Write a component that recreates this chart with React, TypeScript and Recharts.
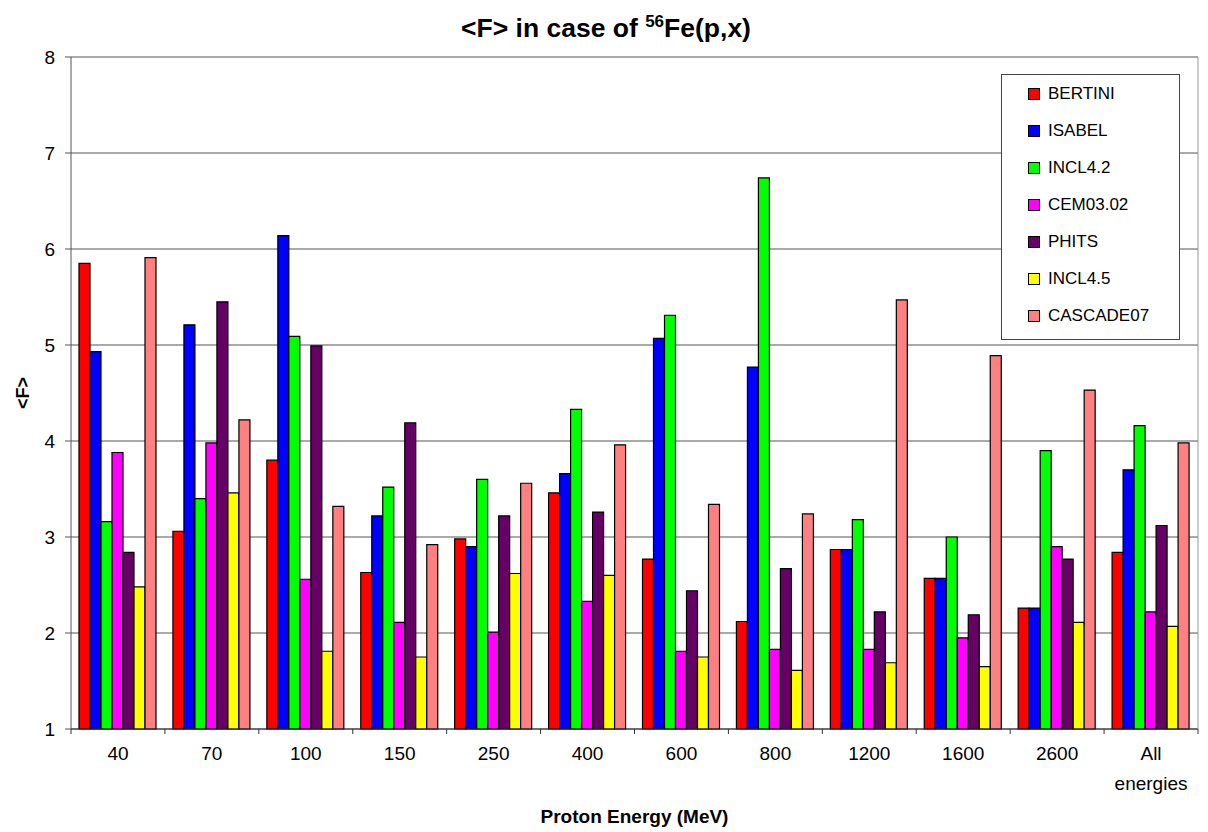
import React from "react";
import { BarChart, Bar, XAxis, YAxis, CartesianGrid } from "recharts";

// Proton energy categories (MeV)
const categories = ["40", "70", "100", "150", "250", "400", "600", "800", "1200", "1600", "2600", "All energies"];

// <F> values per model
const bertini = [5.85, 3.06, 3.8, 2.63, 2.98, 3.46, 2.77, 2.12, 2.87, 2.57, 2.26, 2.84];
const isabel = [4.93, 5.21, 6.14, 3.22, 2.9, 3.66, 5.07, 4.77, 2.87, 2.57, 2.26, 3.7];
const incl42 = [3.16, 3.4, 5.09, 3.52, 3.6, 4.33, 5.31, 6.74, 3.18, 3.0, 3.9, 4.16];
const cem0302 = [3.88, 3.98, 2.56, 2.11, 2.01, 2.33, 1.81, 1.83, 1.83, 1.95, 2.9, 2.22];
const phits = [2.84, 5.45, 4.99, 4.19, 3.22, 3.26, 2.44, 2.67, 2.22, 2.19, 2.77, 3.12];
const incl45 = [2.48, 3.46, 1.81, 1.75, 2.62, 2.6, 1.75, 1.61, 1.69, 1.65, 2.11, 2.07];
const cascade07 = [5.91, 4.22, 3.32, 2.92, 3.56, 3.96, 3.34, 3.24, 5.47, 4.89, 4.53, 3.98];

const yTicks = [1, 2, 3, 4, 5, 6, 7, 8];

const SERIES = [
  { key: "BERTINI", values: bertini, color: "#FF0000" },
  { key: "ISABEL", values: isabel, color: "#0000FF" },
  { key: "INCL4.2", values: incl42, color: "#00FF00" },
  { key: "CEM03.02", values: cem0302, color: "#FF00FF" },
  { key: "PHITS", values: phits, color: "#660066" },
  { key: "INCL4.5", values: incl45, color: "#FFFF00" },
  { key: "CASCADE07", values: cascade07, color: "#FF8080" },
];

const FONT = "'Liberation Sans', Arial, sans-serif";

const W = 1208;
const H = 832;
const MARGIN = { top: 57, right: 9, bottom: 0, left: 11 };
const Y_AXIS_W = 60;
const PLOT_W = W - MARGIN.left - Y_AXIS_W - MARGIN.right - 1;
const BAND = PLOT_W / categories.length;
const TICK_GAP = 17;

const data = categories.map((name, i) => {
  const row: Record<string, string | number> = { name };
  SERIES.forEach((s) => {
    row[s.key] = s.values[i];
  });
  return row;
});

// x tick: label(s) centred in the band plus boundary tick marks
const CategoryTick = (props: any) => {
  const { x, y, payload, index } = props;
  const axisY = y - TICK_GAP;
  const lines = String(payload.value).split(" ");
  const left = x - BAND / 2;
  const right = x + BAND / 2;
  return (
    <g>
      <line x1={left} x2={left} y1={axisY} y2={axisY + 5} stroke="#333" />
      {index === categories.length - 1 && (
        <line x1={right} x2={right} y1={axisY} y2={axisY + 5} stroke="#333" />
      )}
      {lines.map((ln, k) => (
        <text
          key={k}
          x={x}
          y={y}
          dy={13.5 + k * 30}
          textAnchor="middle"
          fill="#000"
          fontSize={19}
          fontFamily={FONT}
        >
          {ln}
        </text>
      ))}
    </g>
  );
};

const LegendBox = () => (
  <div
    style={{
      position: "absolute",
      left: 1001,
      top: 74,
      width: 177,
      height: 264,
      border: "1px solid #444",
      background: "#fff",
      fontFamily: FONT,
      fontSize: 17,
      color: "#000",
    }}
  >
    {SERIES.map((s, i) => (
      <div
        key={s.key}
        style={{
          position: "absolute",
          left: 26,
          top: 19 + i * 37 - 10,
          height: 20,
          display: "flex",
          alignItems: "center",
          whiteSpace: "nowrap",
        }}
      >
        <span
          style={{
            display: "inline-block",
            width: 10,
            height: 10,
            background: s.color,
            border: "1px solid #000",
            marginRight: 8,
          }}
        />
        <span>{s.key}</span>
      </div>
    ))}
  </div>
);

export default function App() {
  return (
    <div style={{ position: "absolute", left: 0, top: 0, width: W, height: H, background: "#fff" }}>
      <BarChart
        width={W}
        height={H}
        data={data}
        margin={MARGIN}
        barCategoryGap={8}
        barGap={0}
      >
        <CartesianGrid vertical={false} stroke="#555" strokeWidth={1} />
        <XAxis
          dataKey="name"
          interval={0}
          height={103}
          stroke="#333"
          tickLine={false}
          tickSize={0}
          tickMargin={TICK_GAP}
          tick={<CategoryTick />}
          label={{
            value: "Proton Energy (MeV)",
            position: "insideBottom",
            offset: 9,
            style: { fontFamily: FONT, fontWeight: "bold", fontSize: 19, fill: "#000" },
          }}
        />
        <YAxis
          domain={[1, 8]}
          ticks={yTicks}
          interval={0}
          width={Y_AXIS_W}
          stroke="#555"
          tickSize={6}
          tickMargin={10}
          tick={{ fontFamily: FONT, fontSize: 19, fill: "#000" }}
          label={{
            value: "<F>",
            angle: -90,
            position: "insideLeft",
            offset: 12,
            style: { fontFamily: FONT, fontWeight: "bold", fontSize: 18, fill: "#000", textAnchor: "middle" },
          }}
        />
        <YAxis
          yAxisId="frame"
          orientation="right"
          domain={[1, 8]}
          width={1}
          tick={false}
          tickLine={false}
          stroke="#999"
        />
        {SERIES.map((s) => (
          <Bar
            key={s.key}
            dataKey={s.key}
            fill={s.color}
            stroke="#000"
            strokeWidth={1.2}
            isAnimationActive={false}
          />
        ))}
      </BarChart>
      <svg
        width={W}
        height={50}
        style={{ position: "absolute", left: 0, top: 0, pointerEvents: "none" }}
      >
        <text x={606} y={37} textAnchor="middle" fontFamily={FONT} fontWeight="bold" fontSize={26.5} fill="#000">
          {"<F> in case of "}
          <tspan fontSize={17} dy={-10}>56</tspan>
          <tspan dy={10}>Fe(p,x)</tspan>
        </text>
      </svg>
      <LegendBox />
    </div>
  );
}
